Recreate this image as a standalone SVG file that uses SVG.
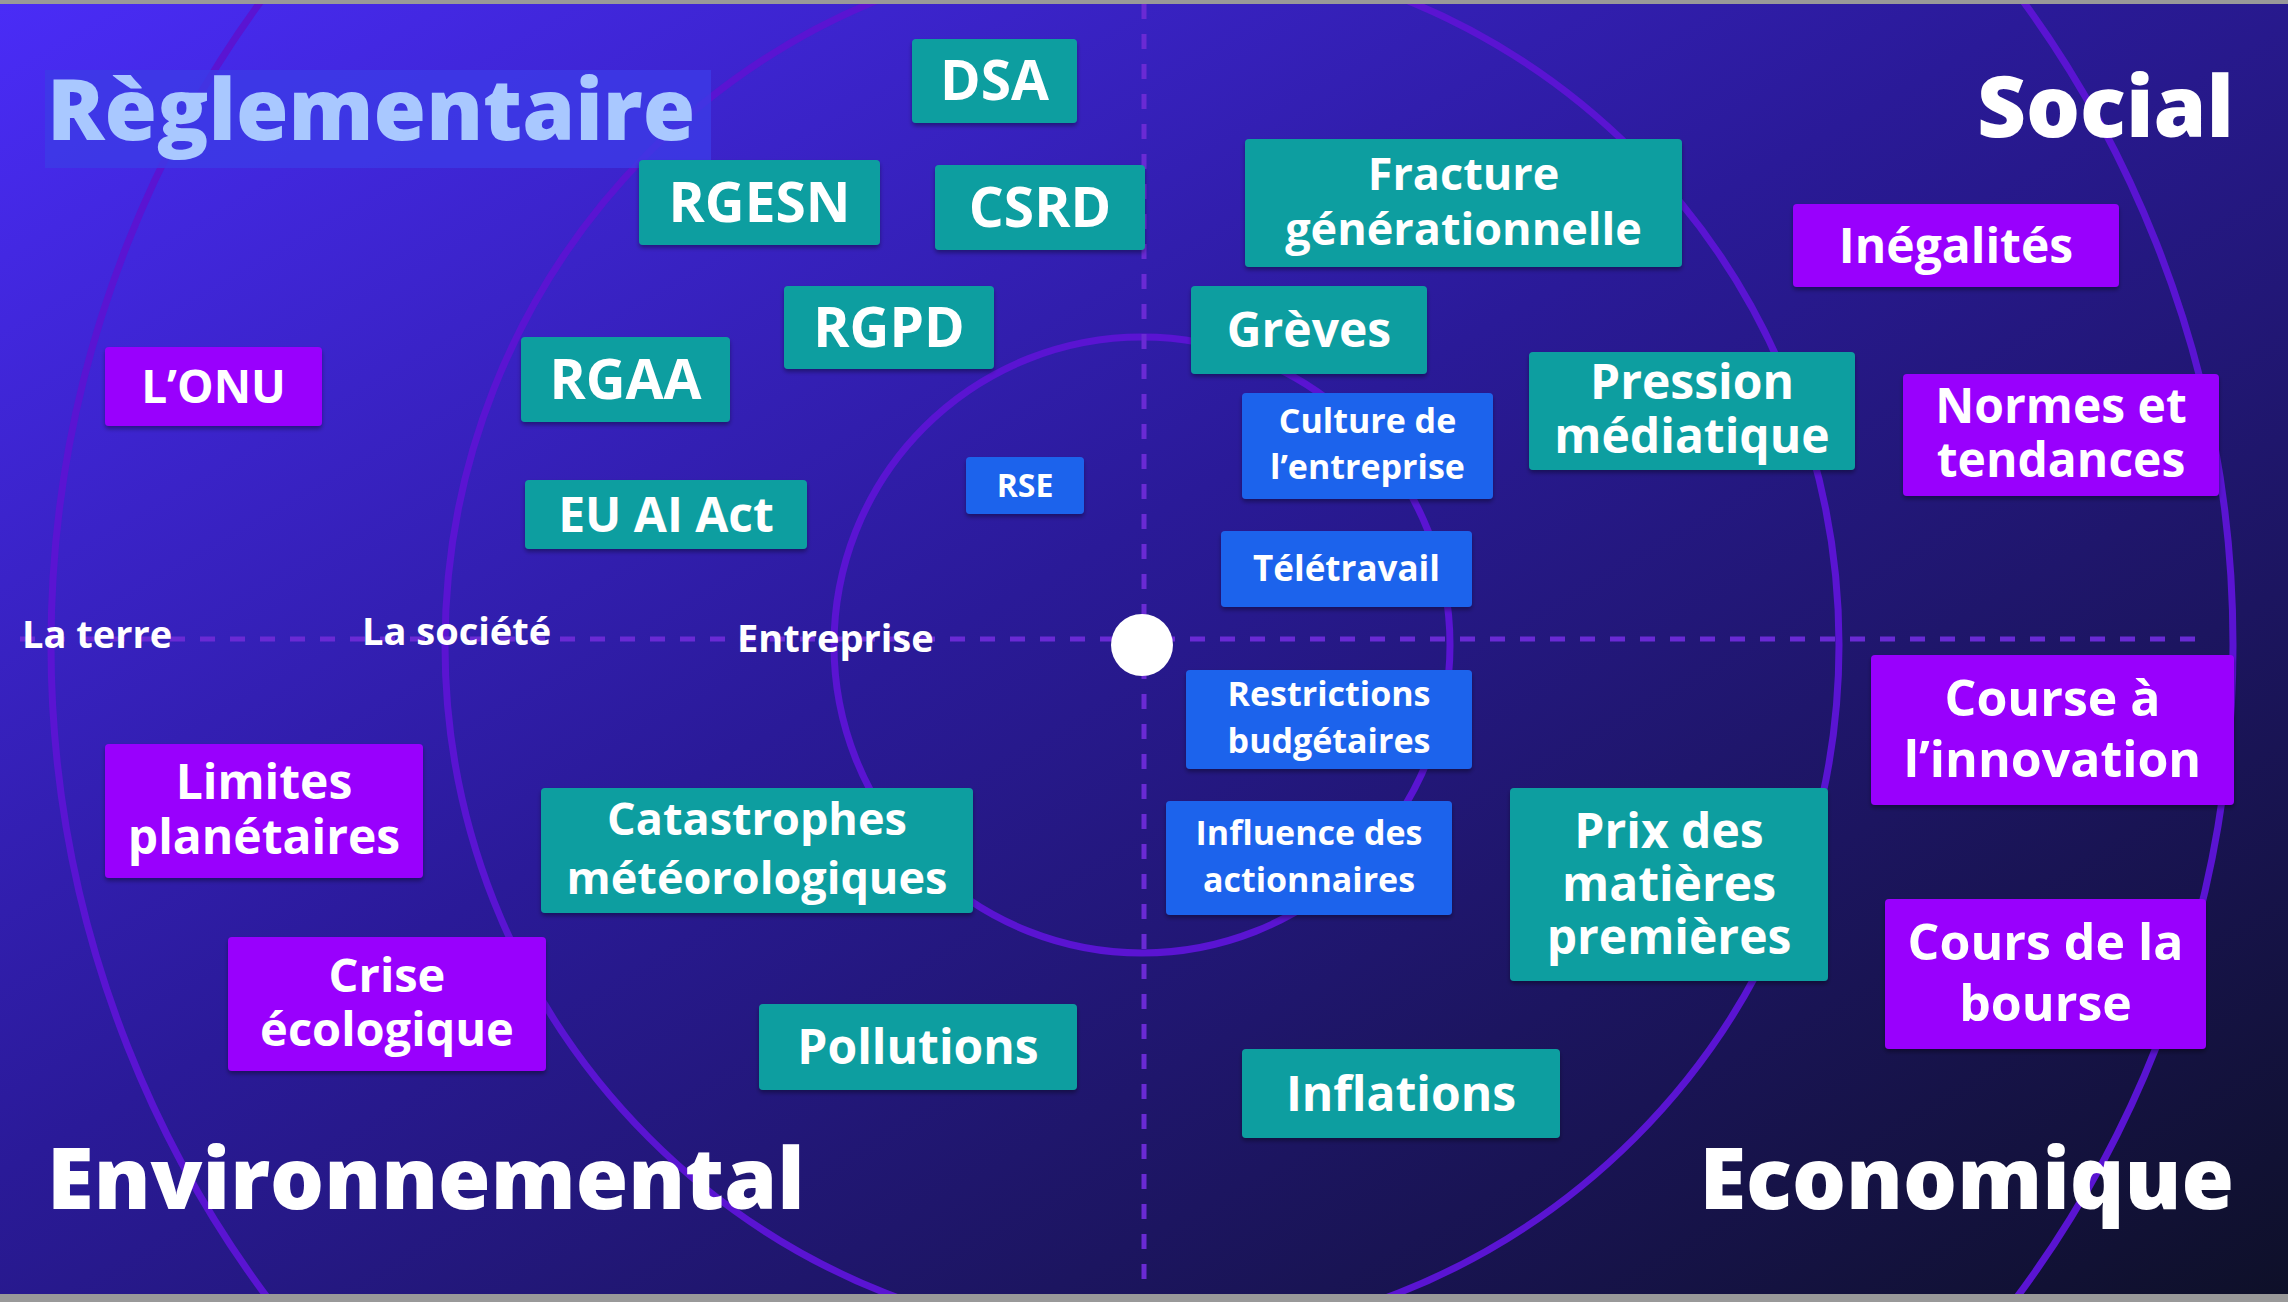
<svg xmlns="http://www.w3.org/2000/svg" width="2288" height="1302" viewBox="0 0 2288 1302">
<defs>
<linearGradient id="bg" x1="0" y1="0" x2="1" y2="1">
<stop offset="0" stop-color="#4a2cf7"/>
<stop offset="0.45" stop-color="#2a1a98"/>
<stop offset="1" stop-color="#0e1028"/>
</linearGradient>
<filter id="sh" x="-10%" y="-10%" width="120%" height="130%"><feDropShadow dx="0" dy="3" stdDeviation="2" flood-color="#000" flood-opacity="0.35"/></filter>
</defs>
<style>
.t{font-family:"Open Sans","Noto Sans",sans-serif;font-weight:700;fill:#fff;text-anchor:middle}
.teal{fill:#0a9ea0;filter:url(#sh)}
.pur{fill:#9900fd;filter:url(#sh)}
.blu{fill:#1f63ec;filter:url(#sh)}
.ring{fill:none;stroke:#5a14d2;stroke-width:7}
.dash{stroke:#6a2ad4;stroke-width:5;stroke-dasharray:15 15}
.ax{font-family:"Open Sans","Noto Sans",sans-serif;font-weight:700;fill:#fff;font-size:38px}
.big{font-family:"Open Sans","Noto Sans",sans-serif;font-weight:800;fill:#fff;font-size:85px}
</style>
<rect width="2288" height="1302" fill="url(#bg)"/>
<g id="connectors">
<circle class="ring" cx="1142" cy="645" r="308"/>
<circle class="ring" cx="1142" cy="645" r="697"/>
<circle class="ring" cx="1142" cy="645" r="1091"/>
<line class="dash" x1="20" y1="639" x2="2205" y2="639"/>
<line class="dash" x1="1144" y1="4" x2="1144" y2="1294"/>
</g>
<rect x="0" y="0" width="2288" height="4" fill="#999"/>
<rect x="0" y="1294" width="2288" height="8" fill="#999"/>
<circle id="center" cx="1142" cy="645" r="31" fill="#fff"/>
<g id="titles">
<rect x="45" y="70" width="666" height="98" fill="#3c3be6" opacity="0.8"/>
<text class="big" x="47" y="140" style="fill:#a9c8ff">Règlementaire</text>
<text class="big" x="2234" y="137" text-anchor="end">Social</text>
<text class="big" x="47" y="1209">Environnemental</text>
<text class="big" x="2234" y="1209" text-anchor="end">Economique</text>
<text class="ax" x="22" y="648">La terre</text>
<text class="ax" x="362" y="645">La société</text>
<text class="ax" x="737" y="652">Entreprise</text>
</g>
<g id="dsa"><rect class="teal" x="912" y="39" width="165" height="84" rx="4"/><text class="t" x="994.5" y="100" font-size="55">DSA</text></g>
<g id="rgesn"><rect class="teal" x="639" y="160" width="241" height="85" rx="4"/><text class="t" x="759.5" y="222" font-size="55">RGESN</text></g>
<g id="csrd"><rect class="teal" x="935" y="165" width="210" height="85" rx="4"/><text class="t" x="1040" y="227" font-size="55">CSRD</text></g>
<g id="rgpd"><rect class="teal" x="784" y="286" width="210" height="83" rx="4"/><text class="t" x="889" y="347" font-size="55">RGPD</text></g>
<g id="rgaa"><rect class="teal" x="521" y="337" width="209" height="85" rx="4"/><text class="t" x="625.5" y="399" font-size="55">RGAA</text></g>
<g id="euaiact"><rect class="teal" x="525" y="480" width="282" height="69" rx="4"/><text class="t" x="666" y="532" font-size="48">EU AI Act</text></g>
<g id="rse"><rect class="blu" x="966" y="457" width="118" height="57" rx="4"/><text class="t" x="1025" y="497" font-size="32">RSE</text></g>
<g id="onu"><rect class="pur" x="105" y="347" width="217" height="79" rx="4"/><text class="t" x="213.5" y="403" font-size="46">L’ONU</text></g>
<g id="fracture"><rect class="teal" x="1245" y="139" width="437" height="128" rx="4"/><text class="t" x="1463.5" y="190" font-size="45">Fracture</text><text class="t" x="1463.5" y="245" font-size="45">générationnelle</text></g>
<g id="greves"><rect class="teal" x="1191" y="286" width="236" height="88" rx="4"/><text class="t" x="1309" y="347" font-size="48">Grèves</text></g>
<g id="culture"><rect class="blu" x="1242" y="393" width="251" height="106" rx="4"/><text class="t" x="1367.5" y="433" font-size="34">Culture de</text><text class="t" x="1367.5" y="479" font-size="34">l’entreprise</text></g>
<g id="pression"><rect class="teal" x="1529" y="352" width="326" height="118" rx="4"/><text class="t" x="1692" y="399" font-size="48">Pression</text><text class="t" x="1692" y="453" font-size="48">médiatique</text></g>
<g id="inegalites"><rect class="pur" x="1793" y="204" width="326" height="83" rx="4"/><text class="t" x="1956" y="263" font-size="48">Inégalités</text></g>
<g id="normes"><rect class="pur" x="1903" y="374" width="316" height="122" rx="4"/><text class="t" x="2061" y="423" font-size="48">Normes et</text><text class="t" x="2061" y="477" font-size="48">tendances</text></g>
<g id="teletravail"><rect class="blu" x="1221" y="531" width="251" height="76" rx="4"/><text class="t" x="1346.5" y="581" font-size="35">Télétravail</text></g>
<g id="restrictions"><rect class="blu" x="1186" y="670" width="286" height="99" rx="4"/><text class="t" x="1329" y="706" font-size="34">Restrictions</text><text class="t" x="1329" y="753" font-size="34">budgétaires</text></g>
<g id="influence"><rect class="blu" x="1166" y="801" width="286" height="114" rx="4"/><text class="t" x="1309" y="845" font-size="34">Influence des</text><text class="t" x="1309" y="892" font-size="34">actionnaires</text></g>
<g id="course"><rect class="pur" x="1871" y="655" width="363" height="150" rx="4"/><text class="t" x="2052.5" y="716" font-size="50">Course à</text><text class="t" x="2052.5" y="777" font-size="50">l’innovation</text></g>
<g id="prix"><rect class="teal" x="1510" y="788" width="318" height="193" rx="4"/><text class="t" x="1669" y="848" font-size="48">Prix des</text><text class="t" x="1669" y="901" font-size="48">matières</text><text class="t" x="1669" y="954" font-size="48">premières</text></g>
<g id="bourse"><rect class="pur" x="1885" y="899" width="321" height="150" rx="4"/><text class="t" x="2045.5" y="960" font-size="50">Cours de la</text><text class="t" x="2045.5" y="1021" font-size="50">bourse</text></g>
<g id="inflations"><rect class="teal" x="1242" y="1049" width="318" height="89" rx="4"/><text class="t" x="1401" y="1111" font-size="48">Inflations</text></g>
<g id="limites"><rect class="pur" x="105" y="744" width="318" height="134" rx="4"/><text class="t" x="264" y="799" font-size="48">Limites</text><text class="t" x="264" y="854" font-size="48">planétaires</text></g>
<g id="catastrophes"><rect class="teal" x="541" y="788" width="432" height="125" rx="4"/><text class="t" x="757" y="835" font-size="45">Catastrophes</text><text class="t" x="757" y="894" font-size="45">météorologiques</text></g>
<g id="crise"><rect class="pur" x="228" y="937" width="318" height="134" rx="4"/><text class="t" x="387" y="992" font-size="47">Crise</text><text class="t" x="387" y="1046" font-size="47">écologique</text></g>
<g id="pollutions"><rect class="teal" x="759" y="1004" width="318" height="86" rx="4"/><text class="t" x="918" y="1064" font-size="48">Pollutions</text></g>
</svg>
